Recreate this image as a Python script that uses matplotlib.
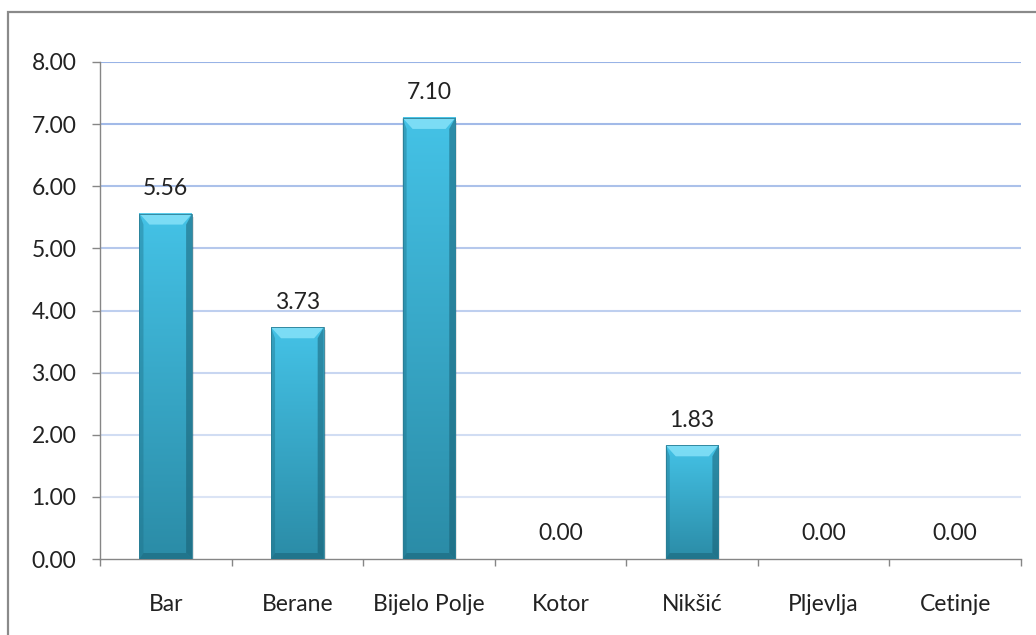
"""
plot.py
Bar chart of values per municipality, Excel-style bevelled bars.
"""

import numpy as np
import matplotlib.pyplot as plt
from matplotlib.patches import Rectangle, Polygon
from matplotlib.colors import to_rgb

towns = ["Bar", "Berane", "Bijelo Polje", "Kotor", "Nikšić", "Pljevlja", "Cetinje"]
values = [5.56, 3.73, 7.10, 0.00, 1.83, 0.00, 0.00]
yticks = [0, 1, 2, 3, 4, 5, 6, 7, 8]

plt.rcParams["font.family"] = ["Lato", "DejaVu Sans"]
FS = 16.5

W, H, DPI = 1036, 635, 100
fig = plt.figure(figsize=(W / DPI, H / DPI), dpi=DPI)
ax = fig.add_axes([100 / W, (H - 559) / H, 921 / W, 497 / H])

# chart frame, running off the right and bottom edges
fig.patches.append(Rectangle((8 / W, -0.1), 1.2, (H - 12) / H + 0.1,
                             transform=fig.transFigure, fill=False,
                             edgecolor="#8a8a8a", linewidth=1.6))

x = np.arange(len(towns))
ax.set_xlim(-0.5, len(towns) - 0.5)
ax.set_ylim(0, 8)

bars = ax.bar(x, values, width=0.4, color="none", edgecolor="none", zorder=3)

# pixel -> data scale
px_x = len(towns) / 921.0
px_y = 8 / 497.0

top_c = np.array(to_rgb("#44c2e6"))
bot_c = np.array(to_rgb("#2b8ca7"))

for rect, v in zip(bars, values):
    if v <= 0:
        continue
    x0, w = rect.get_x(), rect.get_width()
    x1, y0, y1 = x0 + w, 0.0, v
    # soft shadow
    ax.add_patch(Rectangle((x0 + 2 * px_x, y0 - 3 * px_y), w, v,
                           facecolor="#000000", alpha=0.10, edgecolor="none", zorder=2))
    # vertical gradient body
    t = np.linspace(0, 1, 64)[:, None]
    col = top_c * (1 - t) + bot_c * t
    img = np.repeat(col[:, None, :], 2, axis=1)
    ax.imshow(img, extent=(x0, x1, y0, y1), aspect="auto", origin="upper",
              interpolation="bilinear", zorder=3)
    bt, bl, br, bb = 11 * px_y, 4 * px_x, 6 * px_x, 6 * px_y
    # bevel faces
    ax.add_patch(Polygon([(x0, y1), (x1, y1), (x1 - 1.6 * br, y1 - bt), (x0 + 2.5 * bl, y1 - bt)],
                         closed=True, facecolor="#8ee6fb", alpha=0.75, edgecolor="none", zorder=4))
    ax.add_patch(Polygon([(x0, y0), (x0, y1), (x0 + bl, y1 - bt), (x0 + bl, y0 + bb)],
                         closed=True, facecolor="#1d6f86", alpha=0.40, edgecolor="none", zorder=4))
    ax.add_patch(Polygon([(x1, y0), (x1, y1), (x1 - br, y1 - bt), (x1 - br, y0 + bb)],
                         closed=True, facecolor="#175a6d", alpha=0.50, edgecolor="none", zorder=4))
    ax.add_patch(Polygon([(x0, y0), (x1, y0), (x1 - br, y0 + bb), (x0 + bl, y0 + bb)],
                         closed=True, facecolor="#175a6d", alpha=0.45, edgecolor="none", zorder=4))
    ax.add_patch(Rectangle((x0, y0), w, v, fill=False, edgecolor="#2a7d94",
                           linewidth=0.6, zorder=5))

for xi, v in zip(x, values):
    ax.annotate(f"{v:.2f}", (xi, v), xytext=(0, 13.5), textcoords="offset points",
                ha="center", va="baseline", fontsize=FS, color="#222222", zorder=6)

# grid and axes
ax.set_yticks(yticks)
ax.set_yticklabels([f"{t:.2f}" for t in yticks])
c_hi, c_lo = np.array(to_rgb("#98b3e6")), np.array(to_rgb("#dbe4f5"))
for t in yticks[1:]:
    f = (8 - t) / 7.0
    ax.axhline(t, color=c_hi * (1 - f) + c_lo * f, linewidth=1.5, zorder=1)

for s in ["top", "right"]:
    ax.spines[s].set_visible(False)
for s in ["left", "bottom"]:
    ax.spines[s].set_color("#868686")
    ax.spines[s].set_linewidth(1.0)

ax.set_xticks(x)
ax.set_xticklabels(towns)
ax.set_xticks(np.arange(-0.5, len(towns)), minor=True)
ax.tick_params(axis="x", which="major", length=0, pad=25, labelsize=FS, labelcolor="#222222")
ax.tick_params(axis="x", which="minor", length=5, color="#868686", width=1.0)
ax.tick_params(axis="y", length=6, color="#868686", width=1.0, pad=11,
               labelsize=FS, labelcolor="#222222")

fig.savefig("out.png", dpi=DPI)
